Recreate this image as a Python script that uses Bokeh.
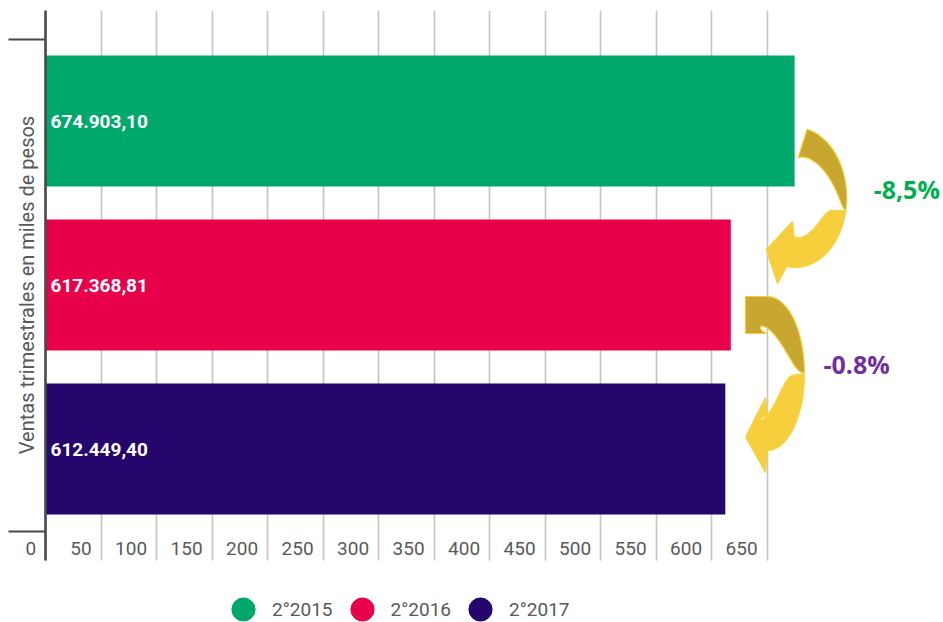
import math
import numpy as np
from bokeh.plotting import figure
from bokeh.models import Range1d, FixedTicker, LinearAxis, Legend, LegendItem
from bokeh.core.properties import value
from bokeh.embed import file_html
from bokeh.resources import INLINE

# ---------------- data ----------------
periods = ["2°2015", "2°2016", "2°2017"]
sales = [674903.10, 617368.81, 612449.40]          # miles de pesos
bar_labels = ["674.903,10", "617.368,81", "612.449,40"]
bar_colors = ["#00A86B", "#E8004B", "#25066C"]
x_ticks = [0, 50, 100, 150, 200, 250, 300, 350, 400, 450, 500, 550, 600, 650]
x_tick_labels = [str(t) for t in x_ticks]
change_labels = ["-8,5%", "-0.8%"]
change_colors = ["#00B050", "#7030A0"]
axis_title = "Ventas trimestrales en miles de pesos"

# ---------------- layout ----------------
W, H = 943, 622
LEFT, TOP = 8, 10           # frame offset inside the canvas
KX = 721.5 / 650.0          # px per unit on x
KY = 164.0                  # px per category step
X0 = -(45.0 - LEFT) / KX
X1 = X0 + (W - LEFT) / KX
Y_TOP = -(120.5 - TOP) / KY
Y_BOT = Y_TOP + (H - TOP) / KY

FONT = value("Roboto")
GREY_TXT = "#595959"

p = figure(width=W, height=H, x_range=Range1d(X0, X1), y_range=Range1d(Y_BOT, Y_TOP),
           output_backend="svg", toolbar_location=None,
           x_axis_location=None, y_axis_location=None,
           min_border_left=LEFT, min_border_top=TOP, min_border_right=0, min_border_bottom=0)
p.grid.grid_line_color = None
p.outline_line_color = None
p.background_fill_color = "white"

HIDE = dict(major_label_text_font_size="0px", major_label_text_color=None, major_label_standoff=0,
            minor_tick_line_color=None, axis_line_color=None, major_tick_out=0)

# vertical grid lines drawn as long inward ticks of a top axis (end at label row)
grid_axis = LinearAxis(ticker=FixedTicker(ticks=x_ticks), major_tick_in=550,
                       major_tick_line_color="#C4C4C4", major_tick_line_width=1.6, **HIDE)
grid_axis.level = "underlay"
p.add_layout(grid_axis, "above")

# dark value axis line at 0
zero_axis = LinearAxis(ticker=FixedTicker(ticks=[0]), major_tick_in=550,
                       major_tick_line_color="#4A4A4A", major_tick_line_width=2.6, **HIDE)
p.add_layout(zero_axis, "above")

# short category boundary ticks on the left
cat_axis = LinearAxis(ticker=FixedTicker(ticks=[-0.5, len(sales) - 0.5]), major_tick_in=37,
                      major_tick_line_color="#4A4A4A", major_tick_line_width=2, **HIDE)
p.add_layout(cat_axis, "left")

# ---------------- bars ----------------
ys = list(range(len(sales)))
vals = [s / 1000.0 for s in sales]
p.hbar(y=ys, left=0, right=vals, height=0.8, fill_color=bar_colors, line_color=None)

p.text(x=[4.5] * len(ys), y=ys, text=bar_labels, text_color="white", text_font=FONT,
       text_font_style="bold", text_font_size="19px", text_baseline="middle", text_align="left")

# tick labels (sit left of their grid line, as in the original)
p.text(x=[t - 8.5 for t in x_ticks], y=[2.607] * len(x_ticks), text=x_tick_labels,
       text_color=GREY_TXT, text_font=FONT, text_font_size="19px",
       text_align="right", text_baseline="middle")

# axis title
p.text(x=[-17.0], y=[1.0], text=[axis_title], angle=math.pi / 2, text_color=GREY_TXT,
       text_font=FONT, text_font_size="20px", text_align="center", text_baseline="middle")

# ---------------- curved arrows ----------------
# outer edge follows an ellipse; the ribbon twists (narrows to 0) at angle tw
arrow_specs = [
    dict(dx=1, dy=-5.5, rx=51, ry=70, th0=77, tw=-11, th1=-100, w0=30, w1=31, kd=0.65, kb=0.18,
         lead=0, e_out=19, e_in=14, barb=5, hl=24, tip_off=4, tgap=27, tdy=-9),
    dict(dx=36.7, dy=6.5, rx=37, ry=77, th0=90, tw=0, th1=-90, w0=37, w1=35, kd=0.5, kb=0.25,
         lead=22, e_out=22, e_in=18, barb=2, hl=22, tip_off=4, tgap=19, tdy=-10),
]


def ribbon(s):
    rx, ry = s["rx"], s["ry"]

    def P(t):
        a = math.radians(t)
        return np.array([rx * math.cos(a), -ry * math.sin(a)])

    def N(t):
        a = math.radians(t)
        v = np.array([ry * math.cos(a), -rx * math.sin(a)])
        return v / np.hypot(*v)

    def T(t):
        a = math.radians(t)
        v = np.array([rx * math.sin(a), ry * math.cos(a)])
        return v / np.hypot(*v)

    th0, tw, th1 = s["th0"], s["tw"], s["th1"]
    outer, inner = [], []
    if s["lead"] > 0:
        st = P(th0) - s["lead"] * T(th0)
        outer.append(st)
        inner.append(st - s["w0"] * N(th0))
    for t in np.linspace(th0, tw, 60):
        f = max((t - tw) / (th0 - tw), 0.0) ** s["kd"]
        outer.append(P(t))
        inner.append(P(t) - s["w0"] * f * N(t))
    dark = outer + inner[::-1]

    outer, inner = [], []
    for t in np.linspace(tw, th1, 60):
        f = max((tw - t) / (tw - th1), 0.0) ** s["kb"]
        outer.append(P(t))
        inner.append(P(t) - s["w1"] * f * N(t))
    O, n, tt = P(th1), N(th1), T(th1)
    M = O - s["w1"] / 2 * n
    head = [M + (s["w1"] / 2 + s["e_out"]) * n + s["barb"] * tt,
            M + s["hl"] * tt + s["tip_off"] * n,
            M - (s["w1"] / 2 + s["e_in"]) * n + s["barb"] * tt]
    bright = outer + head + inner[::-1]
    return dark, bright


dark_xs, dark_ys, bright_xs, bright_ys = [], [], [], []
tx, ty = [], []
for i, spec in enumerate(arrow_specs):
    cx = vals[i] + spec["dx"] / KX
    cy = i + 0.5 + spec["dy"] / KY
    dark, bright = ribbon(spec)
    dark_xs.append([float(cx + q[0] / KX) for q in dark])
    dark_ys.append([float(cy + q[1] / KY) for q in dark])
    bright_xs.append([float(cx + q[0] / KX) for q in bright])
    bright_ys.append([float(cy + q[1] / KY) for q in bright])
    tx.append(cx + (spec["rx"] + spec["tgap"]) / KX)
    ty.append(cy + spec["tdy"] / KY)

p.patches(dark_xs, dark_ys, fill_color="#C8A731", line_color="#F3CF3E", line_width=1.2)
p.patches(bright_xs, bright_ys, fill_color="#F7CE3C", line_color="#F3D545", line_width=1.2)

p.text(x=tx, y=ty, text=change_labels, text_color=change_colors, text_font=value("Open Sans"),
       text_font_style="bold", text_font_size="25px", text_align="left", text_baseline="middle")

# ---------------- legend ----------------
proxies = [p.scatter(x=[float("nan")], y=[float("nan")], marker="circle", size=23,
                     fill_color=c, line_color=c) for c in bar_colors]
legend = Legend(items=[LegendItem(label=lab, renderers=[r]) for lab, r in zip(periods, proxies)],
                orientation="horizontal", location=(206, -16), glyph_width=58, glyph_height=58,
                label_standoff=0, spacing=0, padding=0, margin=0,
                border_line_color=None, background_fill_alpha=0,
                label_text_font="Roboto", label_text_font_size="19px", label_text_color=GREY_TXT)
p.add_layout(legend, "center")

open("out.html", "w").write(file_html(p, INLINE))
